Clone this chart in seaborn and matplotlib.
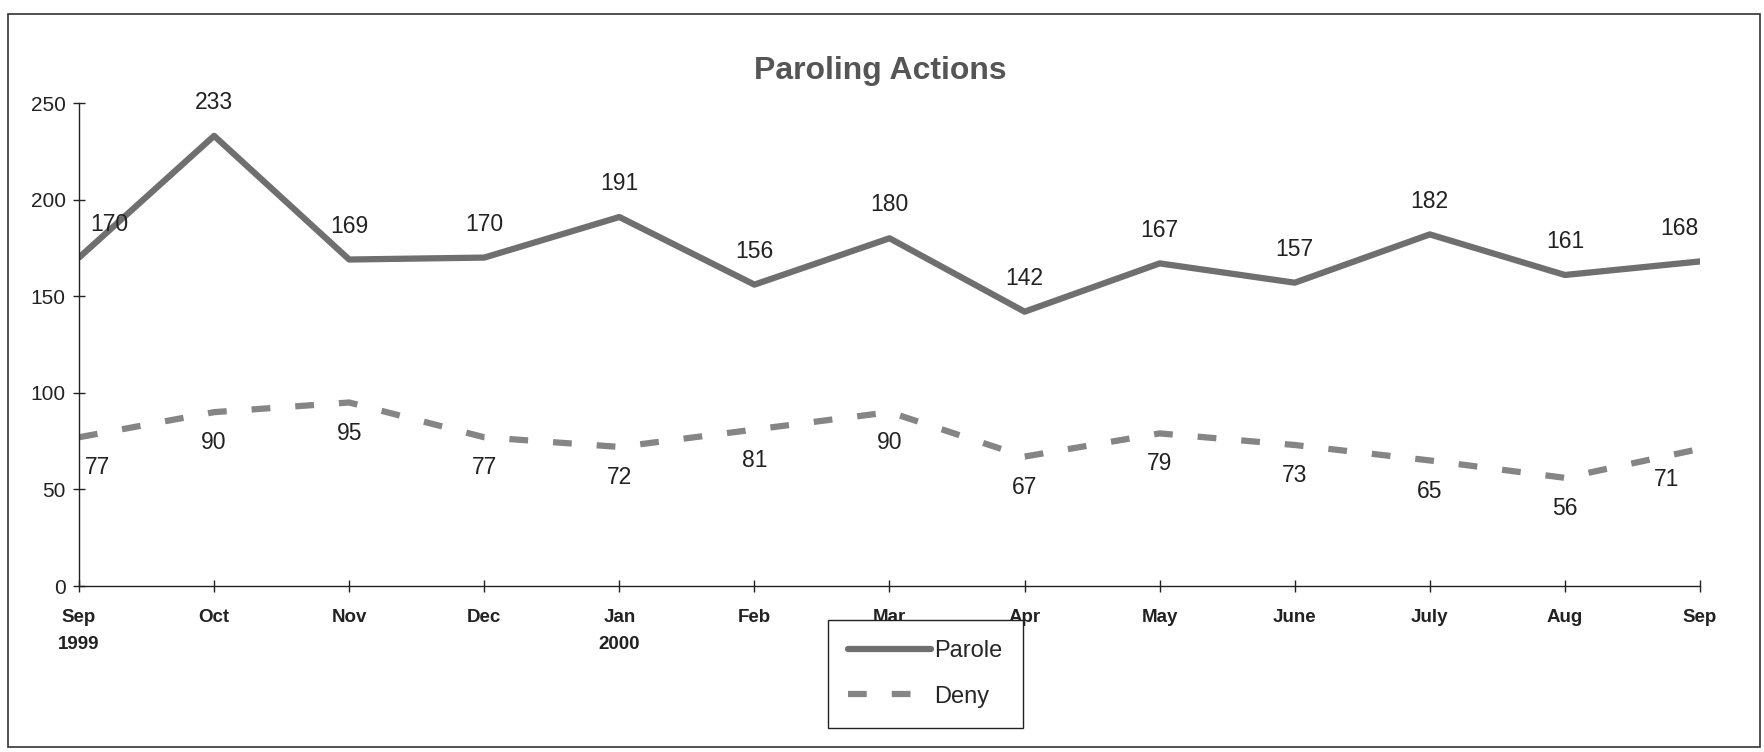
import numpy as np
import pandas as pd
import seaborn as sns
import matplotlib.pyplot as plt
from matplotlib.patches import Rectangle

# Monthly paroling actions, Sep 1999 - Sep 2000
months = ['Sep\n1999', 'Oct', 'Nov', 'Dec', 'Jan\n2000', 'Feb', 'Mar',
          'Apr', 'May', 'June', 'July', 'Aug', 'Sep']
parole = [170, 233, 169, 170, 191, 156, 180, 142, 167, 157, 182, 161, 168]
deny = [77, 90, 95, 77, 72, 81, 90, 67, 79, 73, 65, 56, 71]

x = np.arange(len(months))
df = pd.concat([
    pd.DataFrame({'month': x, 'count': parole, 'series': 'Parole'}),
    pd.DataFrame({'month': x, 'count': deny, 'series': 'Deny'}),
])

sns.set_style('white')
plt.rcParams['font.family'] = ['Liberation Sans', 'DejaVu Sans']

fig = plt.figure(figsize=(17.64, 7.52), dpi=100)
ax = fig.add_axes([0.0448, 0.2207, 0.9189, 0.6423])

sns.lineplot(data=df, x='month', y='count', hue='series', style='series',
             hue_order=['Parole', 'Deny'], style_order=['Parole', 'Deny'],
             palette={'Parole': '#6f6f6f', 'Deny': '#858585'},
             dashes={'Parole': '', 'Deny': (3, 4)},
             linewidth=4.5, legend=False, ax=ax)

# data labels
for i, v in enumerate(parole):
    dx = 0
    if i == 0:
        dx = 22
    elif i == len(parole) - 1:
        dx = -15
    ax.annotate(str(v), (x[i], v), xytext=(dx, 24), textcoords='offset points',
                ha='center', va='center', fontsize=16.5, color='#222222')
for i, v in enumerate(deny):
    dx = 0
    if i == 0:
        dx = 13
    elif i == len(deny) - 1:
        dx = -24
    ax.annotate(str(v), (x[i], v), xytext=(dx, -22), textcoords='offset points',
                ha='center', va='center', fontsize=16.5, color='#222222')

ax.set_xlim(0, 12)
ax.set_ylim(0, 250)
ax.set_xticks(x)
ax.set_xticklabels(months, fontsize=13.5, fontweight='bold', color='#222222',
                   linespacing=1.75)
ax.set_yticks([0, 50, 100, 150, 200, 250])
ax.tick_params(axis='y', labelsize=15, labelcolor='#222222', direction='inout',
               length=9, width=1, color='#222222', pad=5, left=True)
ax.tick_params(axis='x', direction='inout', length=9, width=1,
               color='#222222', pad=12, bottom=True)
ax.set_xlabel('')
ax.set_ylabel('')
sns.despine(ax=ax)
for s in ['left', 'bottom']:
    ax.spines[s].set_color('#222222')
    ax.spines[s].set_linewidth(1)

fig.text(0.499, 0.905, 'Paroling Actions', ha='center', va='center',
         fontsize=23, fontweight='bold', color='#555555')

leg = ax.legend(ax.lines[:2], ['Parole', 'Deny'], loc='upper left',
                bbox_to_anchor=(828 / 1764, 1 - 620 / 752),
                bbox_transform=fig.transFigure, borderaxespad=0, fontsize=17,
                handlelength=3.5, labelspacing=1.0, borderpad=0.85,
                handletextpad=0.15, fancybox=False, framealpha=1,
                edgecolor='#222222')
leg.get_frame().set_linewidth(1)
leg.set_zorder(10)

# outer border of the page
fig.patches.append(Rectangle((8 / 1764, 5 / 752), 1752 / 1764, 733 / 752,
                             transform=fig.transFigure, fill=False,
                             edgecolor='#333333', linewidth=1.2))

fig.savefig('out.png', dpi=100, facecolor='white')
